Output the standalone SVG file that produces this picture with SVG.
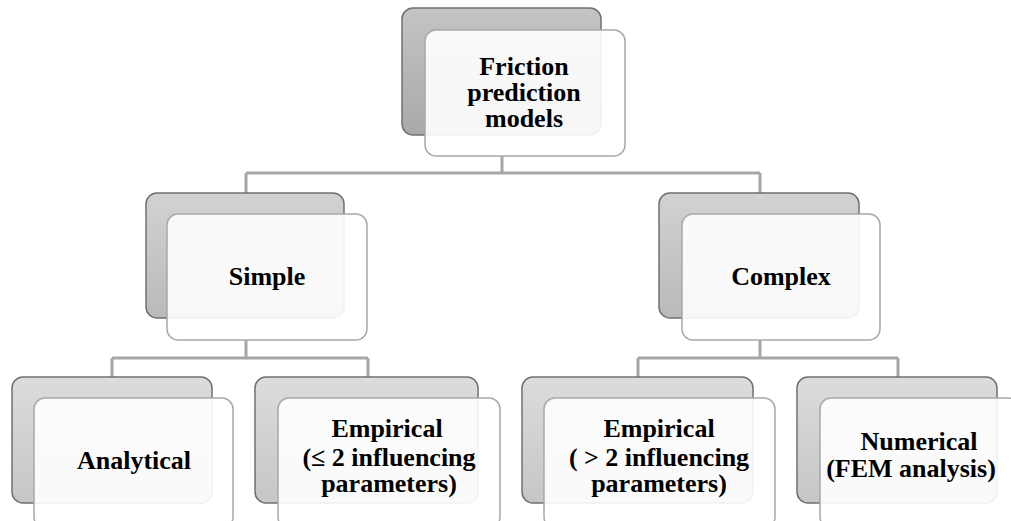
<svg xmlns="http://www.w3.org/2000/svg" width="1011" height="521" viewBox="0 0 1011 521">
<defs>
<linearGradient id="g1" x1="0" y1="0" x2="0" y2="1"><stop offset="0" stop-color="#c4c4c4"/><stop offset="1" stop-color="#a9a9a9"/></linearGradient>
<linearGradient id="g2" x1="0" y1="0" x2="0" y2="1"><stop offset="0" stop-color="#d2d2d2"/><stop offset="1" stop-color="#b9b9b9"/></linearGradient>
<linearGradient id="g3" x1="0" y1="0" x2="0" y2="1"><stop offset="0" stop-color="#dcdcdc"/><stop offset="1" stop-color="#c6c6c6"/></linearGradient>
</defs>
<style>
.back{stroke:#707070;stroke-width:1.5}
.front{fill:#ffffff;fill-opacity:0.9;stroke:#a8a8a8;stroke-width:1.5}
.conn{fill:none;stroke:#a6a6a6;stroke-width:3}
.t{font-family:'Liberation Serif','Times New Roman',serif;font-weight:700;font-size:26px;fill:#000;text-anchor:middle}
</style>
<rect width="1011" height="521" fill="#ffffff"/>
<g id="connectors">
<path class="conn" d="M502 156 V173 M246 173 H760 M246 173 V193 M760 173 V193"/>
<path class="conn" d="M246 340 V358 M112 358 H368 M112 358 V377 M368 358 V377"/>
<path class="conn" d="M760 340 V358 M638 358 H898 M638 358 V377 M898 358 V377"/>
</g>
<g id="node-friction">
<rect class="back" x="402" y="8" width="199" height="127" rx="11" fill="url(#g1)"/>
<rect class="front" x="425" y="30" width="200" height="126" rx="11"/>
<text class="t" x="524"><tspan x="524" y="75">Friction</tspan><tspan x="524" y="101">prediction</tspan><tspan x="524" y="127">models</tspan></text>
</g>
<g id="node-simple">
<rect class="back" x="146" y="193" width="198" height="125" rx="11" fill="url(#g2)"/>
<rect class="front" x="167" y="214" width="200" height="126" rx="11"/>
<text class="t" x="267" y="285">Simple</text>
</g>
<g id="node-complex">
<rect class="back" x="659" y="193" width="200" height="125" rx="11" fill="url(#g2)"/>
<rect class="front" x="682" y="214" width="198" height="126" rx="11"/>
<text class="t" x="781" y="285">Complex</text>
</g>
<g id="node-analytical">
<rect class="back" x="12" y="377" width="200" height="126" rx="11" fill="url(#g3)"/>
<rect class="front" x="34" y="398" width="199" height="130" rx="11"/>
<text class="t" x="134" y="469">Analytical</text>
</g>
<g id="node-empirical-simple">
<rect class="back" x="255" y="377" width="223" height="126" rx="11" fill="url(#g3)"/>
<rect class="front" x="278" y="398" width="222" height="130" rx="11"/>
<text class="t" x="387"><tspan x="387" y="437">Empirical</tspan><tspan x="389" y="466">(≤ 2 influencing</tspan><tspan x="389" y="492">parameters)</tspan></text>
</g>
<g id="node-empirical-complex">
<rect class="back" x="522" y="377" width="231" height="126" rx="11" fill="url(#g3)"/>
<rect class="front" x="544" y="398" width="231" height="130" rx="11"/>
<text class="t" x="659"><tspan x="659" y="437">Empirical</tspan><tspan x="659" y="466">( &gt; 2 influencing</tspan><tspan x="659" y="492">parameters)</tspan></text>
</g>
<g id="node-numerical">
<rect class="back" x="797" y="377" width="200" height="126" rx="11" fill="url(#g3)"/>
<rect class="front" x="820" y="398" width="200" height="130" rx="11"/>
<text class="t" x="915"><tspan x="919" y="450">Numerical</tspan><tspan x="911" y="477">(FEM analysis)</tspan></text>
</g>
</svg>
